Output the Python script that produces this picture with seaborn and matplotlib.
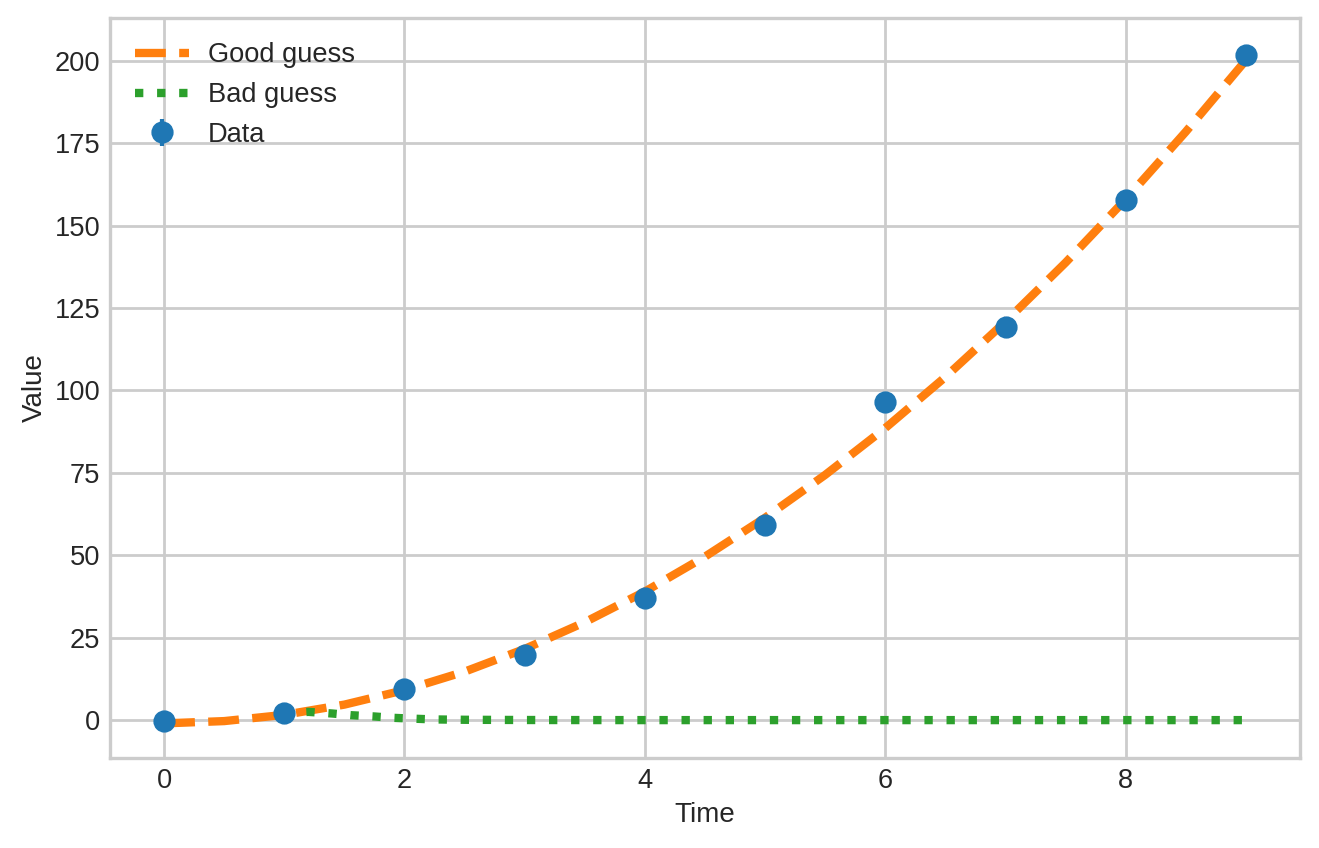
import numpy as np
import pandas as pd
import seaborn as sns
import matplotlib
matplotlib.use("Agg")
import matplotlib.pyplot as plt

# measured data
time = [0, 1, 2, 3, 4, 5, 6, 7, 8, 9]
value = [-0.3, 2.1, 9.4, 19.7, 36.9, 59.3, 96.5, 119.2, 157.9, 201.8]
value_err = [1.0, 1.0, 1.0, 1.0, 1.0, 1.0, 1.0, 1.0, 1.0, 1.0]

# model curves
good_t = [0, 0.5, 1, 1.5, 2, 2.5, 3, 3.5, 4, 4.5, 5, 5.5, 6, 6.5, 7, 7.5, 8, 8.5, 9]
good_v = [-1.0, -0.3, 1.6, 4.7, 9.1, 14.7, 21.6, 29.7, 39.0, 49.6, 61.4, 74.4,
          88.6, 104.1, 120.9, 138.8, 158.0, 178.5, 200.2]

bad_t = [1, 1.2, 1.4, 1.55, 1.75, 1.9, 2.1, 2.25, 2.5, 3, 3.5,
         4, 5, 6, 7, 8, 9]
bad_v = [2.1, 2.5, 2.0, 1.5, 1.1, 0.7, 0.4, 0.2, 0.1, 0.03, 0.01,
         0.0, 0.0, 0.0, 0.0, 0.0, 0.0]

good = pd.DataFrame({"t": good_t, "v": good_v})
bad = pd.DataFrame({"t": bad_t, "v": bad_v})

sns.set_theme(style="whitegrid")
plt.rcParams["font.family"] = ["Liberation Sans", "DejaVu Sans"]
plt.rcParams["axes.edgecolor"] = "#cccccc"
plt.rcParams["grid.color"] = "#cccccc"

fig, ax = plt.subplots(figsize=(1319 / 200, 848 / 200), dpi=200)
fig.subplots_adjust(left=0.0834, right=0.9856, top=0.9788, bottom=0.1061)

sns.lineplot(data=good, x="t", y="v", ax=ax, color="#ff7f0e", linestyle="--",
             linewidth=3, label="Good guess")
sns.lineplot(data=bad, x="t", y="v", ax=ax, color="#2ca02c", linestyle=":",
             linewidth=3, label="Bad guess")
ax.errorbar(time, value, yerr=value_err, fmt="o", color="#1f77b4", markersize=7,
            label="Data", zorder=4)

ax.set_xlabel("Time", fontsize=10, labelpad=3)
ax.set_ylabel("Value", fontsize=10, labelpad=2.5)
ax.tick_params(labelsize=9.8, colors="#262626", length=0, pad=3.5)
ax.set_yticks([0, 25, 50, 75, 100, 125, 150, 175, 200])
ax.legend(loc="upper left", frameon=False, fontsize=9.8, handletextpad=0.7)
for s in ax.spines.values():
    s.set_linewidth(1.2)

plt.savefig("out.png", dpi=200)
